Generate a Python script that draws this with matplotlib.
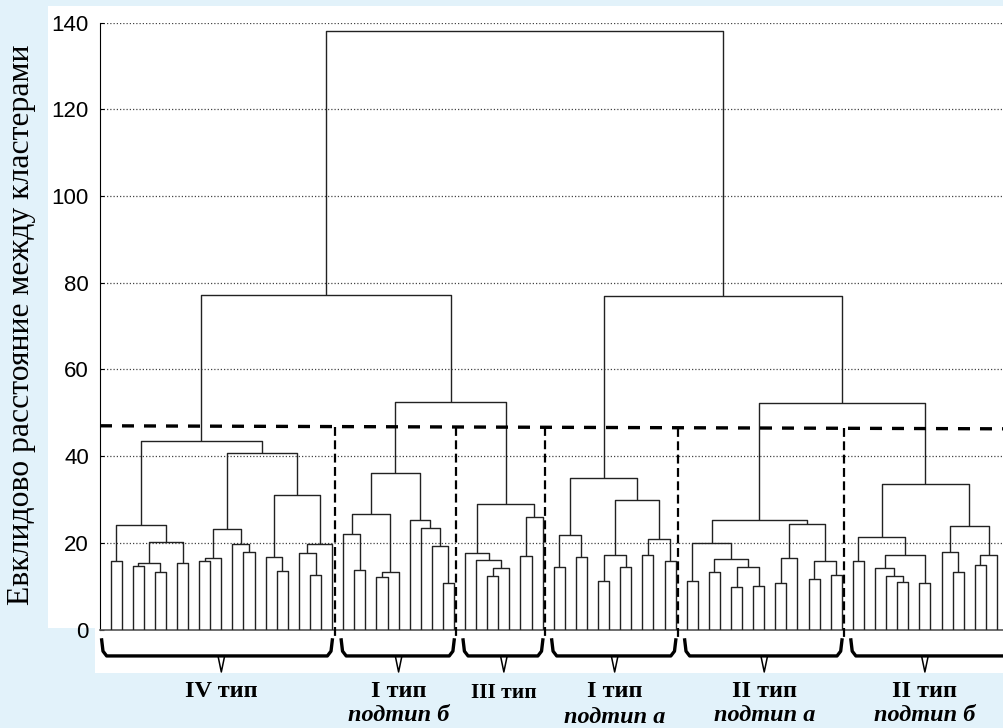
import matplotlib
matplotlib.use("Agg")
import matplotlib.pyplot as plt
from matplotlib.patches import Rectangle

# Leaves are numbered 0..80 in drawing order; a node is (left, right, merge height)
type_iv = (((0, 1, 15.9), (((2, 3, 14.6), (4, 5, 13.3), 15.4), (6, 7, 15.3), 20.3), 24.1),
           ((((8, 9, 15.7), 10, 16.4), (11, (12, 13, 17.8), 19.7), 23.2),
            ((14, (15, 16, 13.6), 16.7), ((17, (18, 19, 12.6), 17.6), 20, 19.7), 31.0), 40.7),
           43.4)
type_i_b = (((21, (22, 23, 13.7), 22.0), ((24, 25, 12.2), 26, 13.3), 26.7),
            (27, (28, (29, (30, 31, 10.7), 19.3), 23.4), 25.2), 36.1)
type_iii = ((32, (33, ((34, 35, 12.4), 36, 14.3), 16.0), 17.6),
            ((37, 38, 16.9), 39, 25.9), 28.9)
type_i_a = (((40, 41, 14.4), (42, 43, 16.8), 21.7),
            (((44, 45, 11.1), (46, 47, 14.4), 17.3), ((48, 49, 17.3), (50, 51, 15.7), 20.8), 29.8),
            34.9)
type_ii_a = (((52, 53, 11.1), ((54, 55, 13.2), ((56, 57, 9.8), (58, 59, 10.0), 14.4), 16.2), 20.0),
             (((60, 61, 10.7), 62, 16.4), ((63, 64, 11.6), (65, 66, 12.5), 15.7), 24.3),
             25.2)
type_ii_b = (((67, 68, 15.9), ((69, (70, (71, 72, 10.9), 12.4), 14.3), (73, 74, 10.7), 17.1), 21.3),
             ((75, (76, 77, 13.3), 17.9), ((78, 79, 14.8), 80, 17.3), 23.8),
             33.5)

# upper joins
join_i_b_iii = 52.6
join_ii = 52.2
join_left = 77.2
join_right = 77.0
join_root = 138.1

cut_level = (47.0, 46.3)   # dashed cut line, left and right end

group_last_leaf = [20, 31, 39, 51, 66, 80]
group_titles = ["IV тип", "I тип", "III тип", "I тип", "II тип", "II тип"]
group_subtitles = ["", "подтип б", "", "подтип а", "подтип а", "подтип б"]

y_ticks = [0, 20, 40, 60, 80, 100, 120, 140]
y_title = "Евклидово расстояние между кластерами"

tree = ((type_iv, (type_i_b, type_iii, join_i_b_iii), join_left),
        (type_i_a, (type_ii_a, type_ii_b, join_ii), join_right),
        join_root)

fig = plt.figure(figsize=(10.04, 7.28), dpi=100)
fig.patch.set_facecolor("#e2f2fa")

# white panel behind the plot and brace area
fig.patches.append(Rectangle((48 / 1004, 1 - 628 / 728), 1 - 48 / 1004, 622 / 728,
                             transform=fig.transFigure, facecolor="white", edgecolor="none", zorder=-5))
fig.patches.append(Rectangle((95 / 1004, 1 - 673 / 728), 1 - 95 / 1004, 46 / 728,
                             transform=fig.transFigure, facecolor="white", edgecolor="none", zorder=-5))

ax = fig.add_axes([100 / 1004, 1 - 629.5 / 728, 1 - 100 / 1004, 606.8 / 728])
ax.set_zorder(1)
ax.set_facecolor("white")
ax.set_xlim(-0.95, 80.64)
ax.set_ylim(0, 140)

line_kw = dict(color="#222222", lw=1.0, solid_capstyle="butt", zorder=3)


def draw(node):
    if isinstance(node, int):
        return float(node), 0.0
    left, right, h = node
    xl, hl = draw(left)
    xr, hr = draw(right)
    ax.plot([xl, xl, xr, xr], [hl, h, h, hr], **line_kw)
    return (xl + xr) / 2, h


draw(tree)

# grid and frame
for t in y_ticks[1:]:
    ax.axhline(t, color="#444444", lw=0.9, ls=(0, (1, 1.6)), zorder=1)
for side in ("top", "right"):
    ax.spines[side].set_visible(False)
ax.spines["left"].set_color("black")
ax.spines["bottom"].set_color("#555555")
ax.spines["bottom"].set_linewidth(1.2)

ax.set_xticks([])
ax.set_yticks(y_ticks)
ax.set_yticklabels([str(t) for t in y_ticks], family="Liberation Sans", fontsize=16)
ax.tick_params(axis="y", direction="in", length=3, pad=8)

# cut line and group dividers
xmin, xmax = ax.get_xlim()
ax.plot([xmin, xmax], list(cut_level), color="black", lw=2.4,
        ls=(0, (3.6, 3.0)), clip_on=False, zorder=4)
slope = (cut_level[1] - cut_level[0]) / (xmax - xmin)
dividers = [last + 0.22 for last in group_last_leaf[:-1]]
for d in dividers:
    top = cut_level[0] + slope * (d - xmin)
    ax.plot([d, d], [top, -2.4], color="black", lw=1.6, ls=(0, (4, 2)),
            clip_on=False, zorder=4)

# braces and labels under the groups
starts = [-0.8] + [d + 0.6 for d in dividers]
ends = [d - 0.2 for d in dividers] + [xmax + 0.5]
firsts = [0] + [last + 1 for last in group_last_leaf[:-1]]
for i, (x0, x1) in enumerate(zip(starts, ends)):
    xc = (firsts[i] + group_last_leaf[i]) / 2
    ax.plot([x0, x0 + 0.12, x0 + 0.45, x1 - 0.45, x1 - 0.12, x1],
            [-2.4, -5.0, -6.1, -6.1, -5.0, -2.4],
            color="black", lw=2.4, clip_on=False, zorder=4, solid_joinstyle="round")
    ax.plot([xc - 0.3, xc, xc + 0.3], [-6.1, -9.8, -6.1], color="black", lw=1.1,
            clip_on=False, zorder=4)
    is_iii = group_titles[i] == "III тип"
    ax.text(xc, -14.6 if is_iii else -14.2, group_titles[i], ha="center", va="center",
            fontsize=15.5 if is_iii else 17.5, family="Liberation Serif",
            fontweight="bold", clip_on=False)
    if group_subtitles[i]:
        sub_y = -20.3 if i == 3 else -19.8
        ax.text(xc, sub_y, group_subtitles[i], ha="center", va="center", fontsize=17.5,
                family="Liberation Serif", fontweight="bold", style="italic", clip_on=False)

fig.text(22 / 1004, 1 - 325 / 728, y_title, rotation=90, ha="center", va="center",
         fontsize=22.8, family="Liberation Serif")

fig.savefig("out.png", dpi=100, facecolor=fig.get_facecolor())
